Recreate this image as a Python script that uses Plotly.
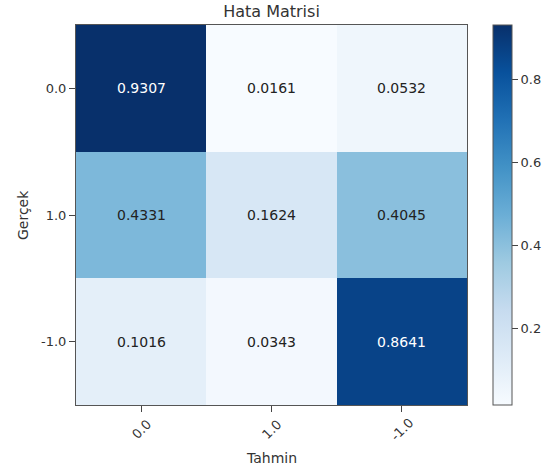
import plotly.graph_objects as go

title = "Hata Matrisi"
x_title = "Tahmin"
y_title = "Gerçek"
x_labels = ["0.0", "1.0", "-1.0"]
y_labels = ["0.0", "1.0", "-1.0"]
row_0 = [0.9307, 0.0161, 0.0532]
row_1 = [0.4331, 0.1624, 0.4045]
row_2 = [0.1016, 0.0343, 0.8641]
z = [row_0, row_1, row_2]
cbar_ticks = [0.2, 0.4, 0.6, 0.8]

blues = ["#f7fbff", "#deebf7", "#c6dbef", "#9ecae1", "#6baed6",
         "#4292c6", "#2171b5", "#08519c", "#08306b"]
colorscale = [[i / (len(blues) - 1), c] for i, c in enumerate(blues)]

zmin = min(min(r) for r in z)
zmax = max(max(r) for r in z)
thresh = zmax / 2

W, H = 555, 470
ML, MR, MT, MB = 76, 88, 25, 65
plot_w = W - ML - MR
FONT = "DejaVu Sans"
TXT = "#333333"

fig = go.Figure(go.Heatmap(
    z=z, x=x_labels, y=y_labels,
    colorscale=colorscale, zmin=zmin, zmax=zmax,
    xgap=0, ygap=0,
    colorbar=dict(
        thickness=19, len=1.0, lenmode="fraction", y=0.5, yanchor="middle",
        x=1.0665, xanchor="left", xpad=0, ypad=0,
        outlinewidth=1, outlinecolor="#555555",
        tickvals=cbar_ticks, ticktext=[f"{t:.1f}" for t in cbar_ticks],
        ticks="outside", ticklen=6, tickcolor="#444444",
        tickfont=dict(family=FONT, size=13, color=TXT),
    ),
    hoverinfo="skip",
))

annotations = []
for i, row in enumerate(z):
    for j, v in enumerate(row):
        annotations.append(dict(
            x=j, y=i, xref="x", yref="y",
            text=f"{v:.4f}", showarrow=False,
            font=dict(family=FONT, size=14,
                      color="white" if v > thresh else "#222222"),
        ))
# rotated x tick labels, centred on their ticks
for j, lab in enumerate(x_labels):
    annotations.append(dict(
        x=j, y=0, xref="x", yref="paper", yanchor="middle", xanchor="center",
        yshift=-24, text=lab, textangle=-45, showarrow=False,
        font=dict(family=FONT, size=13, color=TXT),
    ))
# axis titles
annotations.append(dict(
    x=0.5, y=0, xref="paper", yref="paper", yanchor="middle", xanchor="center",
    yshift=-53, text=x_title, showarrow=False,
    font=dict(family=FONT, size=14, color=TXT),
))
annotations.append(dict(
    x=0, y=0.5, xref="paper", yref="paper", yanchor="middle", xanchor="center",
    xshift=-53, text=y_title, textangle=-90, showarrow=False,
    font=dict(family=FONT, size=14, color=TXT),
))

fig.update_layout(
    width=W, height=H,
    margin=dict(l=ML, r=MR, t=MT, b=MB, autoexpand=False),
    paper_bgcolor="white", plot_bgcolor="white",
    title=dict(text=title, x=(ML + plot_w / 2) / W, xanchor="center",
               y=1 - 11.5 / H, yanchor="middle",
               font=dict(family=FONT, size=16, color=TXT)),
    annotations=annotations,
    font=dict(family=FONT, color=TXT),
)
fig.update_xaxes(
    type="category", ticks="outside", ticklen=6, tickcolor="#444444",
    showticklabels=False,
    showline=True, linecolor="#555555", linewidth=1, mirror=True,
    showgrid=False, zeroline=False, range=[-0.5, 2.5],
)
fig.update_yaxes(
    type="category", ticks="outside", ticklen=6, tickcolor="#444444",
    showline=True, linecolor="#555555", linewidth=1, mirror=True,
    tickfont=dict(family=FONT, size=13, color=TXT),
    showgrid=False, zeroline=False, range=[2.5, -0.5],
)

fig.write_html("out.html", config={"displayModeBar": False},
               post_script="document.body.style.margin='0';document.body.style.overflow='hidden';")
